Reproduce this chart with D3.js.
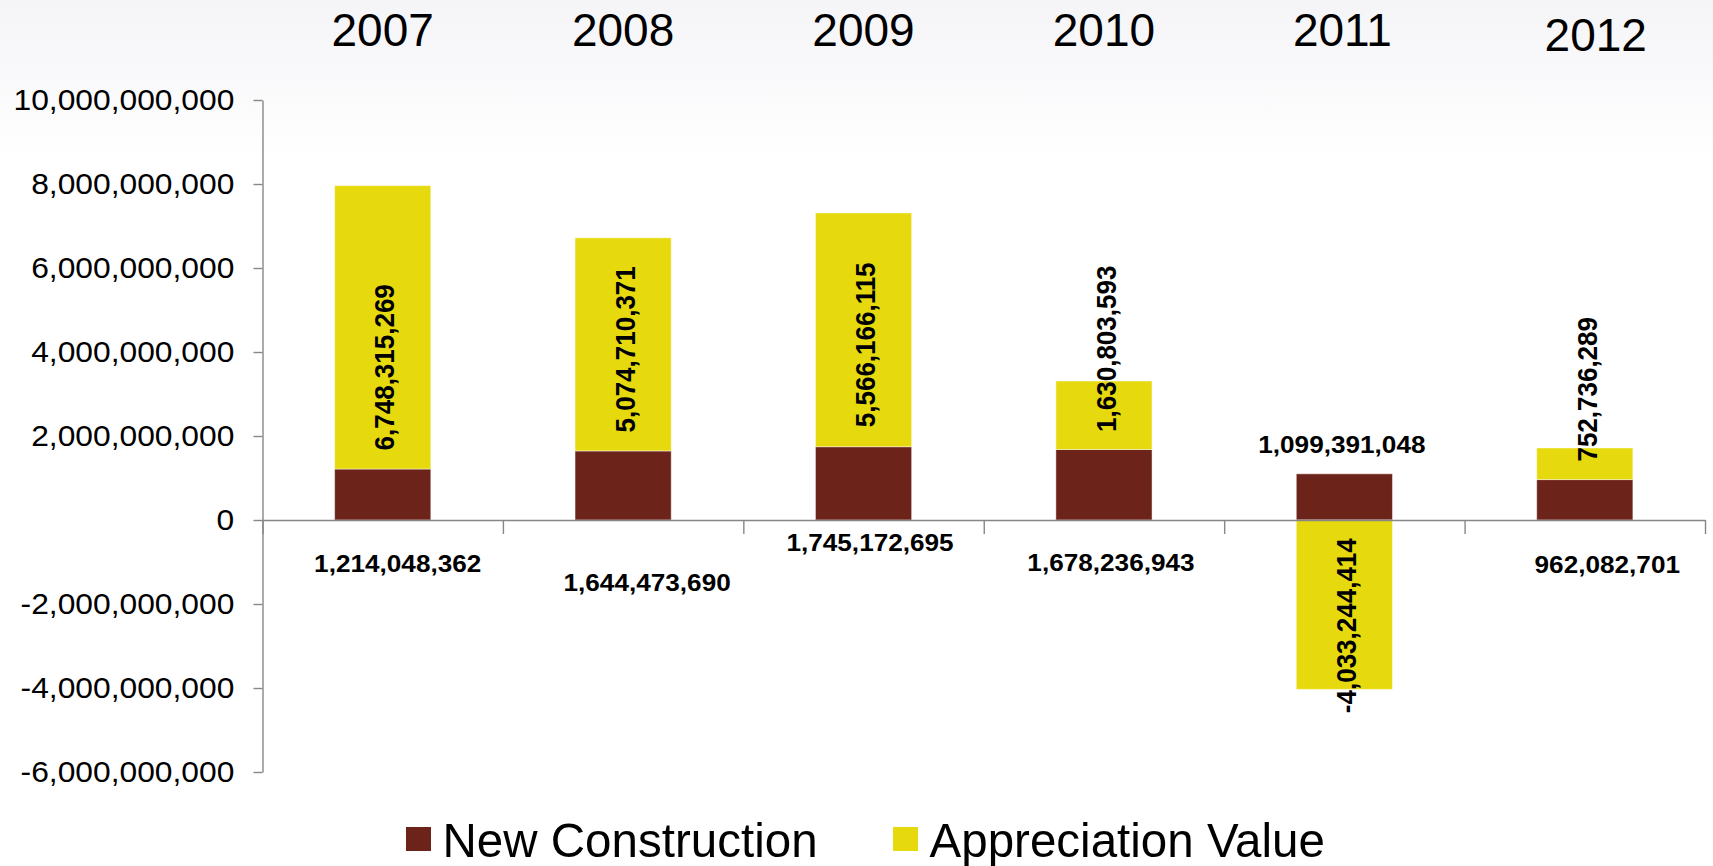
<!DOCTYPE html>
<html>
<head>
<meta charset="utf-8">
<script src="https://cdn.jsdelivr.net/npm/d3@7"></script>
<style>
  html, body { margin: 0; padding: 0; background: #ffffff; }
  svg { display: block; font-family: "Liberation Sans", Arial, Helvetica, sans-serif; }
</style>
</head>
<body>
<svg id="chart" width="1713" height="866"></svg>
<script>
// ---- data ----
const years = ["2007", "2008", "2009", "2010", "2011", "2012"];
const newConstruction = [1214048362, 1644473690, 1745172695, 1678236943, 1099391048, 962082701];
const appreciationValue = [6748315269, 5074710371, 5566166115, 1630803593, -4033244414, 752736289];
const seriesNames = ["New Construction", "Appreciation Value"];
const yTickValues = [-6e9, -4e9, -2e9, 0, 2e9, 4e9, 6e9, 8e9, 10e9];

// ---- layout tweaks for hand-placed labels (pixels) ----
const yearLabelShift = [[0, 0], [0, 0], [0, 0], [0, 0], [-2, 0], [11, 5]];
const ncLabelShift = [[15, 51.5], [24, 70.5], [6.5, 31], [7, 51], [-2.5, -67.5], [22.5, 53]];
const avLabelShift = [40, 5, 15, -66.5, 21, -74.5];

const colors = { "New Construction": "#6b231a", "Appreciation Value": "#e6da0f" };

const W = 1713, H = 866;
const plot = { left: 262.5, right: 1705, top: 100, bottom: 772 };

const svg = d3.select("#chart");

// soft grey wash at the top of the slide
const defs = svg.append("defs");
const grad = defs.append("linearGradient").attr("id", "bgwash")
  .attr("x1", 0).attr("y1", 0).attr("x2", 0).attr("y2", 1);
grad.append("stop").attr("offset", "0").attr("stop-color", "#f5f5f8");
grad.append("stop").attr("offset", "0.45").attr("stop-color", "#f9f9fb");
grad.append("stop").attr("offset", "1").attr("stop-color", "#ffffff");
svg.append("rect").attr("width", W).attr("height", H).attr("fill", "#ffffff");
svg.append("rect").attr("width", W).attr("height", 160).attr("fill", "url(#bgwash)");

// ---- scales ----
const x = d3.scaleBand().domain(years).range([plot.left, plot.right])
  .paddingInner(0.6).paddingOuter(0.3);
const y = d3.scaleLinear().domain([-6e9, 10e9]).range([plot.bottom, plot.top]);

const fmt = d3.formatLocale({ decimal: ".", thousands: ",", grouping: [3], currency: ["$", ""], minus: "-" }).format(",");

// ---- stacked data ----
const rows = years.map((yr, i) => ({
  year: yr,
  "New Construction": newConstruction[i],
  "Appreciation Value": appreciationValue[i]
}));
const stacked = d3.stack().keys(seriesNames).offset(d3.stackOffsetDiverging)(rows);

// ---- y axis ----
const yAxis = svg.append("g").attr("transform", `translate(${plot.left},0)`)
  .call(d3.axisLeft(y).tickValues(yTickValues).tickSize(9).tickSizeOuter(0).tickFormat(fmt));
yAxis.select(".domain").attr("stroke", "#878787").attr("stroke-width", 1.4);
yAxis.selectAll(".tick line").attr("stroke", "#878787").attr("stroke-width", 1.4);
yAxis.selectAll(".tick text")
  .attr("x", null).attr("dy", null)
  .attr("transform", "translate(-28.2,9.7) scale(1.096,1)")
  .attr("fill", "#000").attr("font-size", 29)
  .attr("font-family", "'Liberation Sans', Arial, sans-serif")
  .attr("text-anchor", "end");

// ---- bars ----
const series = svg.append("g").selectAll("g").data(stacked).join("g")
  .attr("fill", d => colors[d.key]);
series.selectAll("rect").data(d => d).join("rect")
  .attr("x", d => x(d.data.year))
  .attr("width", x.bandwidth())
  .attr("y", d => y(Math.max(d[0], d[1])))
  .attr("height", d => Math.abs(y(d[0]) - y(d[1])))
  .attr("stroke", "#ffffff").attr("stroke-opacity", 0.45).attr("stroke-width", 1);

// ---- x axis along zero ----
const bounds = d3.scaleLinear().domain([0, years.length]).range([plot.left, plot.right]);
const xAxis = svg.append("g").attr("transform", `translate(0,${y(0)})`)
  .call(d3.axisBottom(bounds).tickValues(d3.range(years.length + 1)).tickSize(14).tickSizeOuter(0).tickFormat(""));
xAxis.select(".domain").attr("stroke", "#878787").attr("stroke-width", 1.6);
xAxis.selectAll(".tick line").attr("stroke", "#878787").attr("stroke-width", 1.4);

// ---- year headings ----
svg.append("g").selectAll("text").data(years).join("text")
  .attr("x", (d, i) => x(d) + x.bandwidth() / 2 + yearLabelShift[i][0])
  .attr("y", (d, i) => 45.5 + yearLabelShift[i][1])
  .attr("text-anchor", "middle")
  .attr("font-size", 46)
  .attr("fill", "#000")
  .text(d => d);

// ---- New Construction value labels ----
svg.append("g").selectAll("text").data(years).join("text")
  .attr("transform", (d, i) => {
    const cx = x(d) + x.bandwidth() / 2 + ncLabelShift[i][0];
    const by = y(0) + ncLabelShift[i][1];
    return `translate(${cx},${by}) scale(1.09,1)`;
  })
  .attr("text-anchor", "middle")
  .attr("font-size", 24)
  .attr("font-weight", "bold")
  .attr("fill", "#000")
  .text((d, i) => fmt(newConstruction[i]));

// ---- Appreciation Value labels (vertical) ----
const avLayer = stacked[1];
svg.append("g").selectAll("text").data(avLayer).join("text")
  .attr("transform", (d, i) => {
    const cx = x(d.data.year) + x.bandwidth() / 2 + 1.5;
    const cy = (y(d[0]) + y(d[1])) / 2 + avLabelShift[i];
    return `translate(${cx},${cy}) scale(1.09,1) rotate(-90)`;
  })
  .attr("text-anchor", "middle")
  .attr("dy", "0.36em")
  .attr("font-size", 26)
  .attr("font-weight", "bold")
  .attr("fill", "#000")
  .text((d, i) => fmt(appreciationValue[i]));

// ---- legend ----
const legendItems = [
  { name: seriesNames[0], sx: 406, tx: 442.5 },
  { name: seriesNames[1], sx: 893, tx: 929.5 }
];
const legend = svg.append("g");
legend.selectAll("rect").data(legendItems).join("rect")
  .attr("x", d => d.sx).attr("y", 827).attr("width", 25).attr("height", 24)
  .attr("fill", d => colors[d.name]);
legend.selectAll("text").data(legendItems).join("text")
  .attr("transform", d => `translate(${d.tx},856.5) scale(0.97,1)`)
  .attr("font-size", 49)
  .attr("fill", "#000")
  .text(d => d.name);
</script>
</body>
</html>
